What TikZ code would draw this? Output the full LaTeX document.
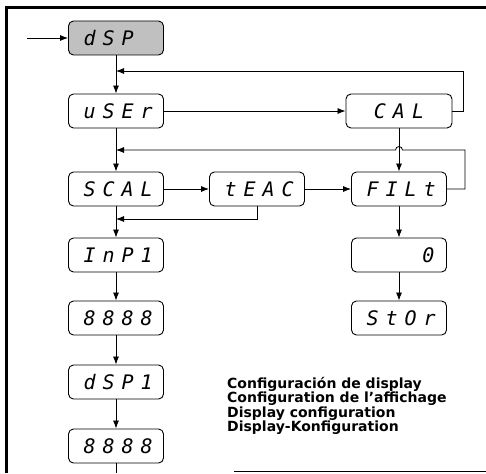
\documentclass[tikz,border=0pt]{standalone}
\usepackage{fontspec}
\setmainfont{DejaVu Sans}
\newfontfamily\segfont[LetterSpace=35]{DejaVu Sans Mono}
\newfontfamily\notefont{DejaVu Sans}
\usetikzlibrary{arrows.meta, positioning, calc}
\definecolor{menugray}{RGB}{192, 192, 192}

\begin{document}
\begin{tikzpicture}[
    x=1pt, y=-1pt,
    % Node styles
    menu/.style={
        rectangle,
        rounded corners=5pt,
        draw,
        line width=0.9pt,
        fill=#1,
        minimum width=95pt,
        minimum height=34pt,
        text width=65pt,
        inner xsep=15pt,
        inner ysep=0pt,
        align=left,
        font={\segfont\itshape\fontsize{20pt}{20pt}\selectfont}
    },
    menu/.default=white,
    arrow/.style={
        -{Latex[length=8pt, width=6pt]},
        line width=0.8pt
    },
    link/.style={
        line width=0.8pt
    }
]
\useasboundingbox (0,0) rectangle (486,473);

% ============================================
% FRAME
% ============================================
\draw[line width=2.5pt] (486,7.5) -- (6.5,7.5) -- (6.5,473);
\draw[line width=1.5pt] (234,471.5) -- (486,471.5);

% ============================================
% MENU (left column)
% ============================================
\node[menu=menugray] (dsp) at (116,38) {dSP};
\node[menu] (user) at (116,111) {uSEr};
\node[menu] (scal) at (116,189) {SCAL};
\node[menu] (inp) at (116,255) {InP1};
\node[menu] (eighta) at (116,318) {8888};
\node[menu] (dspi) at (116,382) {dSP1};
\node[menu] (eightb) at (116,446) {8888};

% ============================================
% MENU (right part)
% ============================================
\node[menu, minimum width=106pt, text width=76pt, align=center] (cal) at (399,111) {CAL};
\node[menu] (teac) at (257,189) {tEAC};
\node[menu] (filt) at (399,189) {FILt};
\node[menu, align=right, inner xsep=12pt, text width=71pt] (zero) at (399,255) {0};
\node[menu] (stor) at (399,318) {StOr};

% free ends
\coordinate (start) at (27,38);
\coordinate (back1) at (116,71);
\coordinate (back2) at (116,150);
\coordinate (back3) at (116,219);
\coordinate (bottom) at (116,473);

% ============================================
% ARROWS
% ============================================
\draw[arrow] (start) -- (dsp);
\draw[arrow] (dsp) -- (user);
\draw[arrow] (user) -- (cal);
\draw[arrow] (user) -- (scal);
\draw[arrow] (cal.east) -- ++(11,0) |- (back1);
\draw[arrow] (cal) -- (filt);
\draw[arrow] (scal) -- (teac);
\draw[arrow] (teac) -- (filt);
\draw[arrow] (teac.south) |- (back3);
\draw[arrow] (filt.east) -- ++(18,0) |- ($(cal.south |- back2)+(3.5,0)$)
    arc[start angle=0, end angle=-180, radius=3.5] -- (back2);
\draw[arrow] (scal) -- (inp);
\draw[arrow] (inp) -- (eighta);
\draw[arrow] (eighta) -- (dspi);
\draw[arrow] (dspi) -- (eightb);
\draw[link] (eightb) -- (bottom);
\draw[arrow] (filt) -- (zero);
\draw[arrow] (zero) -- (stor);

% ============================================
% NOTE
% ============================================
\node[anchor=north west, inner sep=0pt, align=left,
      font={\notefont\bfseries\fontsize{14pt}{14.4pt}\selectfont}] (note) at (227,377)
    {Configuración de display\\Configuration de l’affichage\\Display configuration\\Display-Konfiguration};

\end{tikzpicture}
\end{document}
